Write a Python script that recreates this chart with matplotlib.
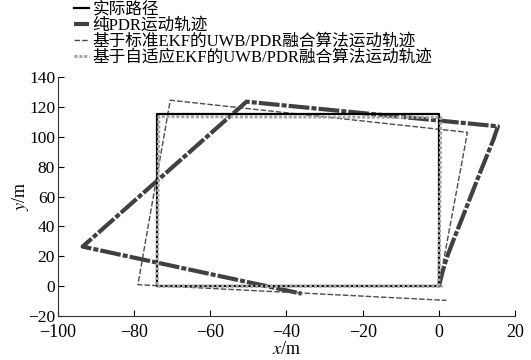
import matplotlib
matplotlib.use("Agg")
import matplotlib.pyplot as plt

plt.rcParams['font.family'] = ['Liberation Serif', 'Noto Sans CJK SC']
plt.rcParams['mathtext.fontset'] = 'stix'

# Data
actual_x = [0, 0, -74, -74, 0]
actual_y = [0, 115, 115, 0, 0]

pdr_x = [0, 1, 2.2, 4, 6.5, 10.8, 14.3, 15.5, -50.5, -93.5, -36]
pdr_y = [0, 10, 20, 32, 48, 76, 98, 107, 123.5, 26.5, -5]

ekf_x = [0, 7.5, -70.5, -79, 2]
ekf_y = [0, 103, 124.5, 1, -9.5]

aekf_x = [0, 0.5, -73.5, -74, 1]
aekf_y = [0, 113, 113.5, 0, 0]

labels = ['实际路径', '纯PDR运动轨迹',
          '基于标准EKF的UWB/PDR融合算法运动轨迹',
          '基于自适应EKF的UWB/PDR融合算法运动轨迹']

xticks = [-100, -80, -60, -40, -20, 0, 20]
yticks = [-20, 0, 20, 40, 60, 80, 100, 120, 140]

fig = plt.figure(figsize=(5.31, 3.6), dpi=100)
ax = fig.add_axes([0.109, 0.122, 0.861, 0.664])

l1, = ax.plot(actual_x, actual_y, color='black', lw=1.6, zorder=3)
l2, = ax.plot(pdr_x, pdr_y, color='#404040', lw=3.0, linestyle=(0, (5, 0.5, 1.2, 0.5)), zorder=2)
l3, = ax.plot(ekf_x, ekf_y, color='#4d4d4d', lw=1.0, linestyle=(0, (4, 1.5)), zorder=2)
l4, = ax.plot(aekf_x, aekf_y, color='#a5a5a5', lw=2.2, linestyle=(0, (1, 0.6)), zorder=4)

ax.set_xlim(-100, 20)
ax.set_ylim(-20, 140)
ax.set_xticks(xticks)
ax.set_yticks(yticks)
ax.tick_params(direction='in', length=4, width=0.8)
ax.tick_params(axis='y', labelsize=12.5, pad=2)
ax.tick_params(axis='x', labelsize=13, pad=6)
ax.set_xticklabels([str(t).replace('-', '\u2212') for t in xticks])
ax.set_yticklabels([str(t).replace('-', '\u2212') for t in yticks])
for s in ['top', 'right']:
    ax.spines[s].set_visible(False)
for s in ['left', 'bottom']:
    ax.spines[s].set_linewidth(0.8)
    ax.spines[s].set_color('#333333')

ax.set_xlabel('$x$/m', fontsize=13, labelpad=0)
ax.set_ylabel('$y$/m', fontsize=13, labelpad=-2)

fig.legend([l1, l2, l3, l4], labels, loc='upper left',
           bbox_to_anchor=(0.140, 0.995), frameon=False, fontsize=12,
           handlelength=0.9, handletextpad=0.2, labelspacing=0.0,
           borderpad=0.0, borderaxespad=0)

fig.savefig('out.png', dpi=100)
